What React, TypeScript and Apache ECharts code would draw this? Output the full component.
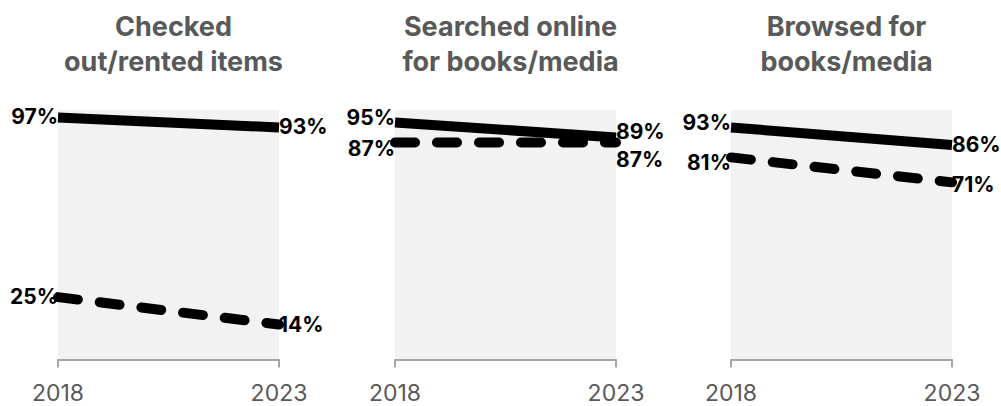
import React, { useEffect, useRef } from "react";
import * as echarts from "echarts";

const years = ["2018", "2023"];
const panelTitles = ["Checked\nout/rented items", "Searched online\nfor books/media", "Browsed for\nbooks/media"];
const solidValues = [
  [97, 93],
  [95, 89],
  [93, 86],
];
const dashedValues = [
  [25, 14],
  [87, 87],
  [81, 71],
];
// vertical label nudges [start, end] to keep labels from colliding
const solidLabelDy = [
  [-1, -1],
  [-5, -6],
  [-5, 0],
];
const dashedLabelDy = [
  [-1, 0],
  [6, 17],
  [5, 2],
];

const gridLefts = [58, 395, 731];
const gridWidth = 221;
const FONT = "Inter, 'Noto Sans', sans-serif";

export default function App() {
  const ref = useRef<HTMLDivElement>(null);
  useEffect(() => {
    if (!ref.current) return;
    const chart = echarts.init(ref.current, undefined, { renderer: "svg" });

    const mkData = (vals: number[], dys: number[]) =>
      vals.map((v, i) => ({
        value: v,
        label: {
          position: i === 0 ? "left" : "right",
          offset: [0, dys[i]],
        },
      }));

    const grids = gridLefts.map((l) => ({
      left: l,
      width: gridWidth,
      top: 110,
      bottom: 46.5,
      show: true,
      backgroundColor: "#f2f2f2",
      borderWidth: 0,
      containLabel: false,
    }));

    const xAxes = gridLefts.map((_, i) => ({
      type: "category",
      gridIndex: i,
      data: years,
      boundaryGap: false,
      axisLine: { show: true, lineStyle: { color: "#a6a6a6", width: 2 } },
      axisTick: { show: true, length: 8, lineStyle: { color: "#a6a6a6", width: 2 } },
      axisLabel: { color: "#595959", fontSize: 23, fontFamily: FONT, margin: 22 },
      splitLine: { show: false },
    }));

    const yAxes = gridLefts.map((_, i) => ({
      type: "value",
      gridIndex: i,
      min: 0,
      max: 100,
      show: false,
      splitLine: { show: false },
    }));

    const labelBase = {
      show: true,
      formatter: "{c}%",
      color: "#000",
      fontWeight: "bold",
      fontSize: 21,
      fontFamily: FONT,
      distance: 0,
    };

    const series: any[] = [];
    gridLefts.forEach((_, i) => {
      series.push({
        type: "line",
        xAxisIndex: i,
        yAxisIndex: i,
        data: mkData(dashedValues[i], dashedLabelDy[i]),
        symbol: "circle",
        symbolSize: 0,
        showSymbol: true,
        itemStyle: { color: "#000" },
        lineStyle: { color: "#000", width: 10, type: [20, 22], cap: "round" },
        label: labelBase,
        z: 2,
      });
      series.push({
        type: "line",
        xAxisIndex: i,
        yAxisIndex: i,
        data: mkData(solidValues[i], solidLabelDy[i]),
        symbol: "circle",
        symbolSize: 0,
        showSymbol: true,
        itemStyle: { color: "#000" },
        lineStyle: { color: "#000", width: 10, type: "solid", cap: "butt" },
        label: labelBase,
        z: 3,
      });
    });

    const titles = gridLefts.map((l, i) => ({
      text: panelTitles[i],
      left: l + gridWidth / 2,
      top: 4,
      textAlign: "center",
      textStyle: {
        color: "#595959",
        fontSize: 27,
        fontWeight: "bold",
        fontFamily: FONT,
        lineHeight: 35,
      },
    }));

    chart.setOption({
      animation: false,
      title: titles,
      grid: grids,
      xAxis: xAxes,
      yAxis: yAxes,
      series,
    });
    return () => chart.dispose();
  }, []);
  return (
    <div
      ref={ref}
      style={{ position: "fixed", left: 0, top: 0, width: 1001, height: 406, background: "#fff" }}
    />
  );
}
